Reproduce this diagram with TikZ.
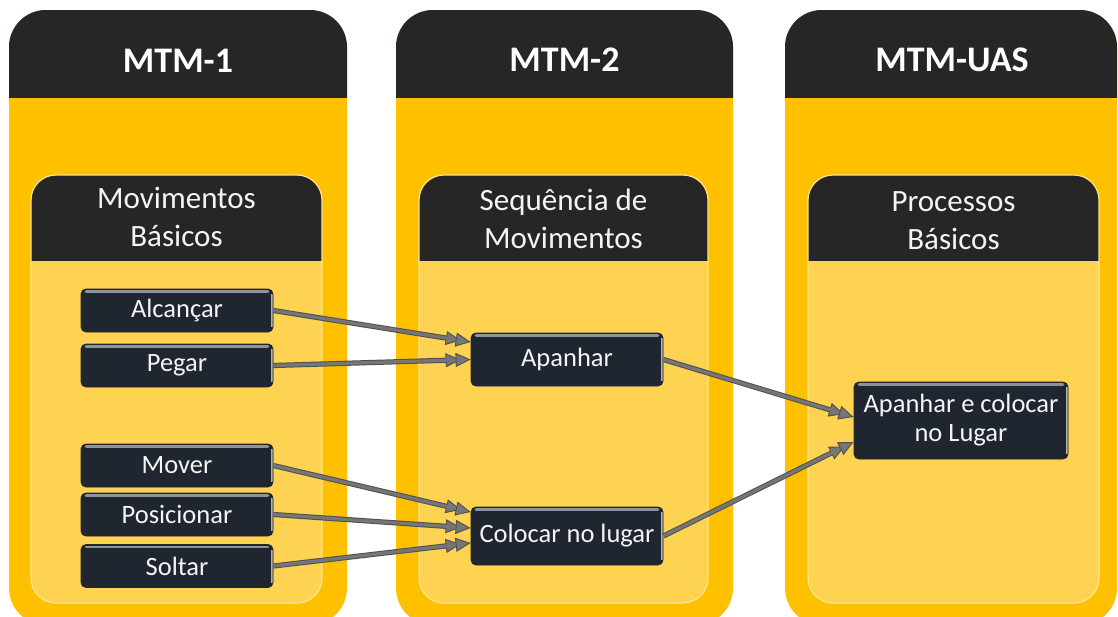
\documentclass[tikz,border=0pt]{standalone}
\usepackage{fontspec}
\setmainfont{Carlito}
\usetikzlibrary{arrows.meta,calc}
\definecolor{outerY}{HTML}{FFC000}
\definecolor{innerY}{HTML}{FED352}
\definecolor{innerEdge}{HTML}{FFE594}
\definecolor{hdr}{HTML}{262626}
\definecolor{boxfill}{HTML}{1F2630}
\definecolor{boxhl}{HTML}{8C939C}
\definecolor{arrowc}{HTML}{767676}
\definecolor{arrowedge}{HTML}{4F4F4F}
\definecolor{txt}{HTML}{F4F4F4}
\tikzset{
  coltitle/.style={text=white, font=\fontsize{36}{40}\selectfont\bfseries, anchor=base, inner sep=0pt},
  paneltitle/.style={text=txt, font=\fontsize{31}{38}\selectfont, align=center, anchor=base, inner sep=0pt},
  stepbox/.style={fill=boxfill, draw=black!85, line width=0.8pt, rounded corners=5pt,
    text=txt, font=\fontsize{26.5}{29}\selectfont, align=center, inner sep=0pt,
    path picture={
      \draw[boxhl, line width=2.6pt, line cap=round]
        ([xshift=5pt,yshift=-2.5pt]path picture bounding box.north west) --
        ([xshift=-5pt,yshift=-2.5pt]path picture bounding box.north east);
      \draw[black!30, line width=1.6pt]
        ([xshift=-1pt,yshift=-5pt]path picture bounding box.north east) --
        ([xshift=-1pt,yshift=5pt]path picture bounding box.south east);
    }},
  arr/.style={
    preaction={draw=arrowedge, line width=5.2pt, shorten >=10pt},
    draw=arrowc, line width=3.2pt,
    -{Triangle[length=15pt,width=14pt,color=arrowedge,fill=arrowc,line width=0.9pt]}}
}
\begin{document}
\begin{tikzpicture}[x=1pt,y=-1pt]
\path[use as bounding box, clip] (0,0) rectangle (1118,616);
\fill[white] (0,0) rectangle (1118,616);
% outer columns
\foreach \xa/\xb in {9/347, 396/733, 785/1117}{
  \fill[outerY, rounded corners=37pt] (\xa,10) rectangle (\xb,625);
  \begin{scope}
    \clip (\xa-5,0) rectangle (\xb+5,97);
    \fill[hdr, rounded corners=37pt] (\xa,10) rectangle (\xb,625);
  \end{scope}
}
% inner panels
\foreach \xa/\xb in {31/322, 419/708, 808/1099}{
  \fill[innerY, rounded corners=25pt] (\xa,175) rectangle (\xb,603);
  \begin{scope}
    \clip (\xa-5,170) rectangle (\xb+5,260);
    \fill[hdr, rounded corners=25pt] (\xa,175) rectangle (\xb,603);
  \end{scope}
  \draw[innerEdge, line width=1.2pt, rounded corners=25pt] (\xa,175) rectangle (\xb,603);
}
% titles
\node[coltitle] (t1) at (178,72) {MTM-1};
\node[coltitle] (t2) at (564.5,71) {MTM-2};
\node[coltitle] (t3) at (952,71) {MTM-UAS};
\node[paneltitle] (p1) at (176.5,246) {Movimentos\\Básicos};
\node[paneltitle] (p2) at (563.5,248) {Sequência de\\Movimentos};
\node[paneltitle] (p3) at (953.5,249) {Processos\\Básicos};
% boxes
\node[stepbox, minimum width=192pt, minimum height=43pt] (alc) at (177,310.5) {Alcançar};
\node[stepbox, minimum width=192pt, minimum height=43pt] (peg) at (177,365.5) {Pegar};
\node[stepbox, minimum width=192pt, minimum height=43pt] (mov) at (177,465.5) {Mover};
\node[stepbox, minimum width=192pt, minimum height=43pt] (pos) at (177,514.5) {Posicionar};
\node[stepbox, minimum width=192pt, minimum height=43pt] (sol) at (177,566) {Soltar};
\node[stepbox, minimum width=192pt, minimum height=53pt] (apa) at (567,359.5) {Apanhar};
\node[stepbox, minimum width=192pt, minimum height=58pt] (col) at (567,536) {Colocar no lugar};
\node[stepbox, minimum width=214pt, minimum height=77pt] (aec) at (961,420.5) {Apanhar e colocar\\no Lugar};
% arrows
\draw[arr] (alc.east) -- ([yshift=17.5pt]apa.west);
\draw[arr] (peg.east) -- (apa.west);
\draw[arr] (mov.east) -- ([yshift=24pt]col.west);
\draw[arr] (pos.east) -- ([yshift=8pt]col.west);
\draw[arr] (sol.east) -- ([yshift=-7pt]col.west);
\draw[arr] (apa.east) -- ([yshift=3.5pt]aec.west);
\draw[arr] (col.east) -- ([yshift=-21.5pt]aec.west);
\end{tikzpicture}
\end{document}
